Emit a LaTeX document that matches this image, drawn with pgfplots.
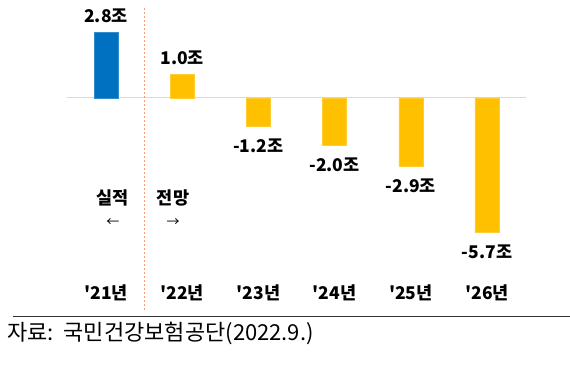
\documentclass[border=0pt]{standalone}
\usepackage{fontspec}
\setmainfont{Noto Sans CJK KR}
\usepackage{pgfplots}
\pgfplotsset{compat=1.18}
\definecolor{cblue}{HTML}{0070C0}
\definecolor{cyel}{HTML}{FFC000}
\definecolor{csep}{HTML}{F4A070}
\definecolor{zline}{HTML}{D9D9D9}
\newcommand{\lab}{\bfseries\fontsize{17.5}{20}\selectfont}
\begin{document}
\begin{tikzpicture}[x=1pt,y=1pt]
\useasboundingbox (0,0) rectangle (570,367);
\begin{axis}[
  at={(67pt,84pt)}, anchor=south west,
  scale only axis, width=459pt, height=267.5pt,
  xmin=-0.512, xmax=5.512, ymin=-7.86, ymax=3.5,
  axis lines=none, clip=false,
  ybar, bar width=24pt, bar shift=0pt,
  xtick=\empty, ytick=\empty,
  point meta=explicit symbolic,
  nodes near coords,
  every node near coord/.append style={font=\lab, text=black, inner sep=0pt},
]
\draw[zline, line width=1pt] (axis cs:-0.512,0) -- (axis cs:5.512,0);
\addplot[fill=cblue, draw=cblue!80!white,
  every node near coord/.append style={anchor=south, yshift=9pt}] coordinates {(0,2.8)[2.8조]};
\addplot[fill=cyel, draw=cyel!80!white,
  every node near coord/.append style={anchor=south, yshift=9pt}] coordinates {(1,1.0)[1.0조]};
\addplot[fill=cyel, draw=cyel!80!white,
  every node near coord/.append style={anchor=north, yshift=-12.5pt}] coordinates {(2,-1.2)[-1.2조] (3,-2.0)[-2.0조] (4,-2.9)[-2.9조] (5,-5.7)[-5.7조]};
\draw[csep, line width=0.8pt, dash pattern=on 2pt off 2pt] (axis cs:0.5,3.82) -- (axis cs:0.5,-9.09);
\node[font=\lab] at (axis cs:0,-8.28) {\textquotesingle 21년};
\node[font=\lab] at (axis cs:1,-8.28) {\textquotesingle 22년};
\node[font=\lab] at (axis cs:2,-8.28) {\textquotesingle 23년};
\node[font=\lab] at (axis cs:3,-8.28) {\textquotesingle 24년};
\node[font=\lab] at (axis cs:4,-8.28) {\textquotesingle 25년};
\node[font=\lab] at (axis cs:5,-8.28) {\textquotesingle 26년};
\node[font=\lab] at (axis cs:0.09,-4.24) {실적};
\node[font=\lab] at (axis cs:0.88,-4.24) {전망};
\node[font=\fontsize{13}{15}\selectfont] at (axis cs:0.09,-5.28) {←};
\node[font=\fontsize{13}{15}\selectfont] at (axis cs:0.88,-5.28) {→};
\end{axis}
\draw[black!80, line width=0.9pt] (13,51) -- (570,51);
\node[anchor=west, font=\fontsize{22}{25}\selectfont, inner sep=0pt] at (7,34) {자료:\ \ 국민건강보험공단(2022.9.)};
\end{tikzpicture}
\end{document}
